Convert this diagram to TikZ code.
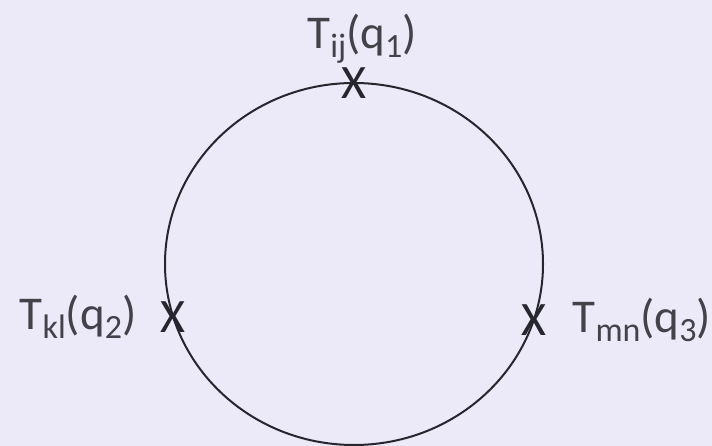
\documentclass[tikz,border=0pt]{standalone}
\usepackage{fontspec}
\setmainfont{Carlito}
\usetikzlibrary{calc,positioning}
\definecolor{loopbg}{RGB}{236,234,248}
\definecolor{loopink}{RGB}{38,38,46}
\definecolor{labelink}{RGB}{66,66,74}
\tikzset{
  loopline/.style={draw=loopink,line width=2pt},
  crossmark/.style={text=loopink,inner sep=0pt,font=\fontsize{48}{52}\selectfont},
  insertlabel/.style={text=labelink,inner sep=0pt,font=\fontsize{47}{52}\selectfont},
}
\newcommand{\lsub}[1]{\raisebox{-0.4ex}{\fontsize{34}{36}\selectfont #1}}
\newcommand{\lins}[2]{T\lsub{#1}(q\lsub{#2})}
\begin{document}
\begin{tikzpicture}[x=1pt,y=1pt]
  \fill[loopbg] (0,0) rectangle (712,446);
  \useasboundingbox (0,0) rectangle (712,446);
  \clip (0,0) rectangle (712,446);
  % the loop
  \coordinate (c) at (354,182);
  \draw[loopline] (c) ellipse [x radius=189, y radius=181];
  % insertions on the loop
  \node[crossmark] (xt) at ($(c)+(90:189 and 181)$) {X};
  \node[crossmark] (xl) at ($(c)+(197:189 and 181)$) {X};
  \node[crossmark] (xr) at ($(c)+(-18:189 and 181)$) {X};
  \node[insertlabel,above=4pt of xt,xshift=8pt] (lt) {\lins{ij}{1}};
  \node[insertlabel,left=24pt of xl] (ll) {\lins{kl}{2}};
  \node[insertlabel,right=26pt of xr] (lr) {\lins{mn}{3}};
\end{tikzpicture}
\end{document}
